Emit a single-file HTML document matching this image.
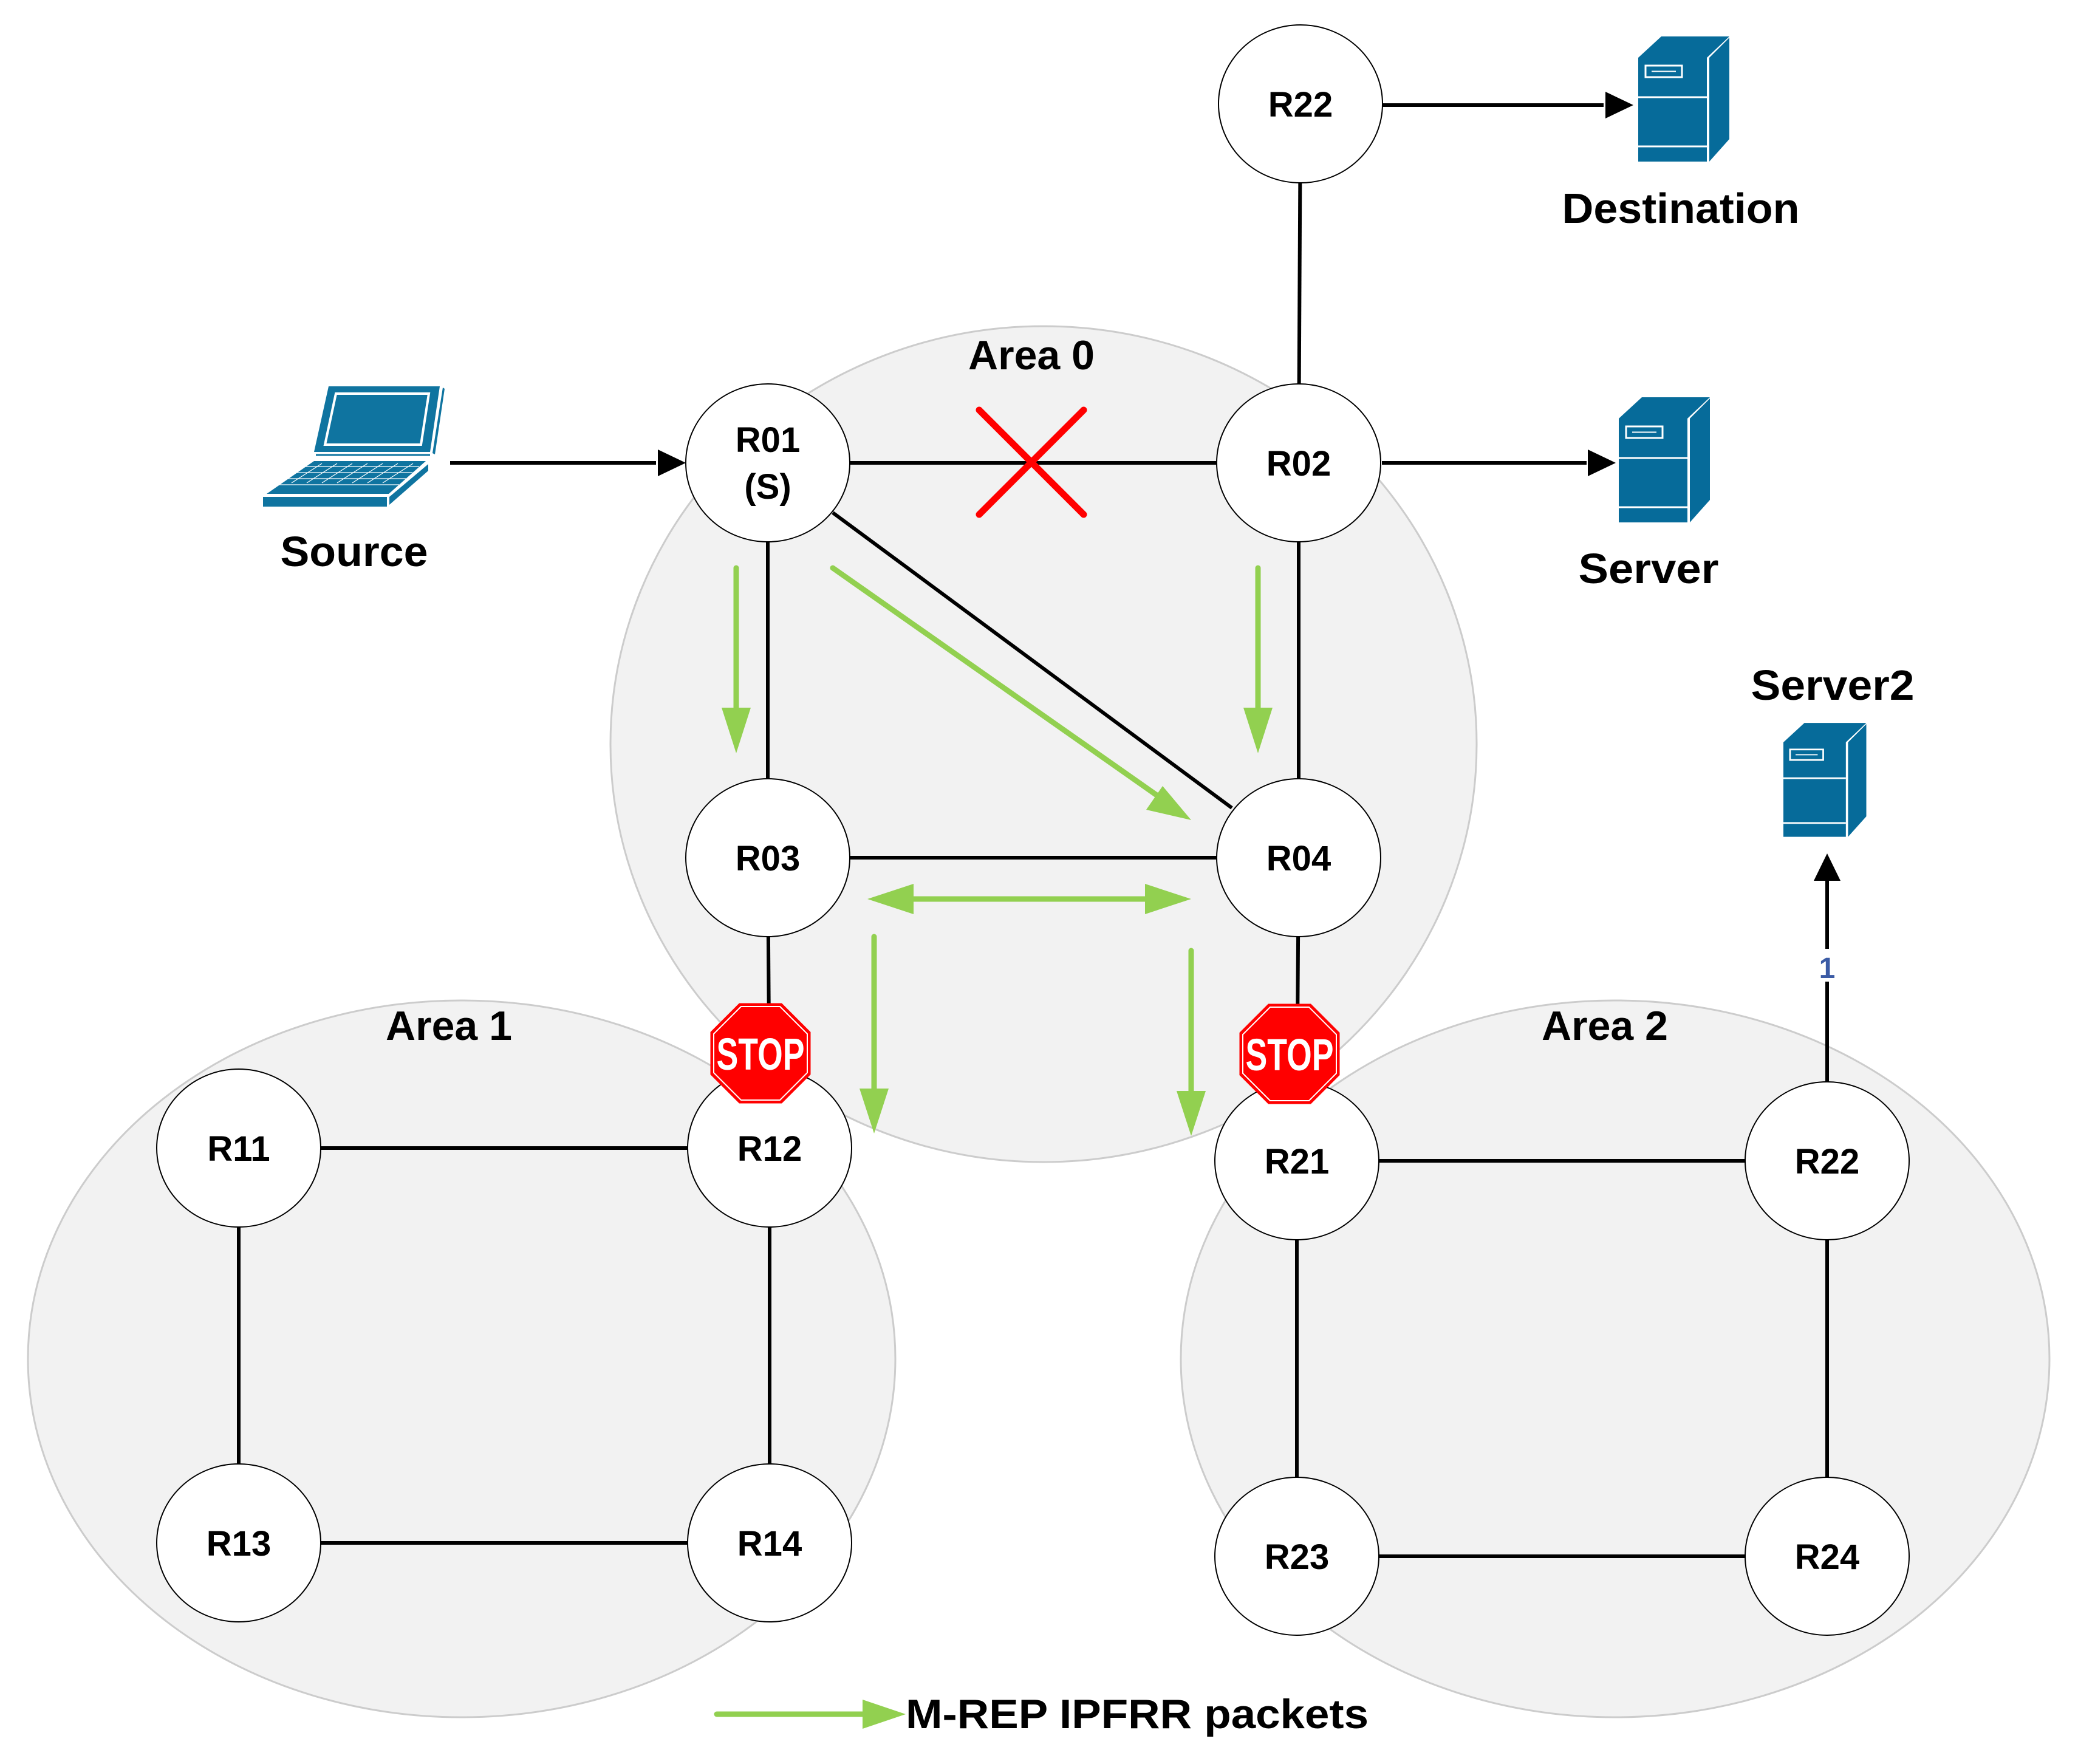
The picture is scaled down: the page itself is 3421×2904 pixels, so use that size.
<!DOCTYPE html>
<html><head><meta charset="utf-8"><style>
html,body{margin:0;padding:0;background:#fff;}
svg{display:block;}
text{font-family:"Liberation Sans",Arial,sans-serif;font-weight:bold;}
</style></head><body>
<svg width="3421" height="2904" viewBox="0 0 3421 2904" xmlns="http://www.w3.org/2000/svg">
<defs>
<g id="srv">
  <polygon points="0,0 38,-35 150,-35 113,0" fill="#066B9A"/>
  <polygon points="117,0 150,-33 150,134 117,171" fill="#066B9A"/>
  <rect x="0" y="0" width="113" height="171" fill="#066B9A"/>
  <line x1="0" y1="65" x2="113" y2="65" stroke="#fff" stroke-width="3"/>
  <line x1="0" y1="146" x2="113" y2="146" stroke="#fff" stroke-width="3"/>
  <line x1="115" y1="0" x2="115" y2="171" stroke="#fff" stroke-width="3"/>
  <rect x="12" y="13" width="60" height="19" fill="none" stroke="#fff" stroke-width="3"/>
  <line x1="22" y1="22.5" x2="62" y2="22.5" stroke="#fff" stroke-width="2"/>
</g>
<g id="stop">
  <polygon points="-35,-82.5 35,-82.5 82.5,-35 82.5,35 35,82.5 -35,82.5 -82.5,35 -82.5,-35" fill="#FF0000"/>
  <polygon points="-32,-77 32,-77 77,-32 77,32 32,77 -32,77 -77,32 -77,-32" fill="none" stroke="#fff" stroke-width="2"/>
  <text x="0" y="27" font-size="74" fill="#fff" text-anchor="middle" textLength="145" lengthAdjust="spacingAndGlyphs">STOP</text>
</g>
</defs>

<ellipse cx="760" cy="2237" rx="714" ry="590" fill="#F2F2F2"/>
<ellipse cx="2659" cy="2237" rx="715" ry="590" fill="#F2F2F2"/>
<ellipse cx="1718" cy="1225" rx="713" ry="688" fill="#F2F2F2"/>
<g fill="none" stroke="#CCCCCC" stroke-width="3">
<ellipse cx="760" cy="2237" rx="714" ry="590"/>
<ellipse cx="2659" cy="2237" rx="715" ry="590"/>
<ellipse cx="1718" cy="1225" rx="713" ry="688"/>
</g>
<text x="1698" y="608" font-size="68" text-anchor="middle">Area 0</text>
<text x="739" y="1712" font-size="68" text-anchor="middle">Area 1</text>
<text x="2642" y="1712" font-size="68" text-anchor="middle">Area 2</text>

<g stroke="#000" stroke-width="6" fill="none">
<line x1="1264" y1="762" x2="2138" y2="762"/>
<line x1="1264" y1="762" x2="1264" y2="1412"/>
<line x1="2138" y1="762" x2="2138" y2="1412"/>
<line x1="1264" y1="1412" x2="2138" y2="1412"/>
<line x1="1371" y1="844" x2="2028" y2="1330"/>
<line x1="1264" y1="1412" x2="1266" y2="1700"/>
<line x1="2138" y1="1412" x2="2136" y2="1700"/>
<line x1="2141" y1="171" x2="2138" y2="762"/>
<line x1="393" y1="1890" x2="1267" y2="1890"/>
<line x1="393" y1="1890" x2="393" y2="2540"/>
<line x1="1267" y1="1890" x2="1267" y2="2540"/>
<line x1="393" y1="2540" x2="1267" y2="2540"/>
<line x1="2135" y1="1911" x2="3008" y2="1911"/>
<line x1="2135" y1="1911" x2="2135" y2="2562"/>
<line x1="3008" y1="1911" x2="3008" y2="2562"/>
<line x1="2135" y1="2562" x2="3008" y2="2562"/>
<line x1="741" y1="762" x2="1080" y2="762"/>
<line x1="2276" y1="173" x2="2640" y2="173"/>
<line x1="2275" y1="762" x2="2612" y2="762"/>
<line x1="3008" y1="1781" x2="3008" y2="1440"/>
</g>
<polygon points="1129,762 1083,740 1083,784" fill="#000"/>
<polygon points="2689,173 2643,151 2643,195" fill="#000"/>
<polygon points="2660,762 2614,740 2614,784" fill="#000"/>
<polygon points="3008,1405 2986,1450 3030,1450" fill="#000"/>
<rect x="2990" y="1562" width="36" height="54" fill="#fff"/>
<text x="3008" y="1610" font-size="48" fill="#3B5BA5" text-anchor="middle">1</text>

<g stroke="#FF0000" stroke-width="11" stroke-linecap="round">
<line x1="1612" y1="675" x2="1784" y2="847"/>
<line x1="1784" y1="675" x2="1612" y2="847"/>
</g>

<g stroke="#92D050" stroke-width="9" stroke-linecap="round" fill="none">
<line x1="1212" y1="935" x2="1212" y2="1175"/>
<line x1="2071" y1="935" x2="2071" y2="1175"/>
<line x1="1371" y1="935" x2="1910" y2="1313"/>
<line x1="1490" y1="1480" x2="1900" y2="1480"/>
<line x1="1439" y1="1542" x2="1439" y2="1800"/>
<line x1="1961" y1="1565" x2="1961" y2="1805"/>
<line x1="1180" y1="2822" x2="1440" y2="2822"/>
</g>
<g fill="#92D050">
<polygon points="1212,1240 1188,1165 1236,1165"/>
<polygon points="2071,1240 2047,1165 2095,1165"/>
<polygon points="1961,1350 1887,1333 1914,1294"/>
<polygon points="1428,1480 1504,1455 1504,1505"/>
<polygon points="1961,1480 1885,1455 1885,1505"/>
<polygon points="1439,1866 1415,1792 1463,1792"/>
<polygon points="1961,1870 1937,1796 1985,1796"/>
<polygon points="1491,2822 1420,2798 1420,2846"/>
</g>
<text x="1491" y="2845" font-size="68" textLength="762" lengthAdjust="spacingAndGlyphs">M-REP IPFRR packets</text>

<g fill="#fff" stroke="#000" stroke-width="2">
<ellipse cx="2141" cy="171" rx="135" ry="130"/>
<ellipse cx="1264" cy="762" rx="135" ry="130"/>
<ellipse cx="2138" cy="762" rx="135" ry="130"/>
<ellipse cx="1264" cy="1412" rx="135" ry="130"/>
<ellipse cx="2138" cy="1412" rx="135" ry="130"/>
<ellipse cx="393" cy="1890" rx="135" ry="130"/>
<ellipse cx="1267" cy="1890" rx="135" ry="130"/>
<ellipse cx="393" cy="2540" rx="135" ry="130"/>
<ellipse cx="1267" cy="2540" rx="135" ry="130"/>
<ellipse cx="2135" cy="1911" rx="135" ry="130"/>
<ellipse cx="3008" cy="1911" rx="135" ry="130"/>
<ellipse cx="2135" cy="2562" rx="135" ry="130"/>
<ellipse cx="3008" cy="2562" rx="135" ry="130"/>
</g>
<g font-size="58" text-anchor="middle">
<text x="2141" y="192">R22</text>
<text x="1264" y="744">R01</text>
<text x="1264" y="821">(S)</text>
<text x="2138" y="783">R02</text>
<text x="1264" y="1433">R03</text>
<text x="2138" y="1433">R04</text>
<text x="393" y="1911">R11</text>
<text x="1267" y="1911">R12</text>
<text x="393" y="2561">R13</text>
<text x="1267" y="2561">R14</text>
<text x="2135" y="1932">R21</text>
<text x="3008" y="1932">R22</text>
<text x="2135" y="2583">R23</text>
<text x="3008" y="2583">R24</text>
</g>

<use href="#stop" x="1252" y="1734"/>
<use href="#stop" x="2123" y="1735"/>

<use href="#srv" transform="translate(2697,95)"/>
<use href="#srv" transform="translate(2665,689)"/>
<use href="#srv" transform="translate(2936,1222) scale(0.91)"/>
<text x="2767" y="367" font-size="70" text-anchor="middle" textLength="391" lengthAdjust="spacingAndGlyphs">Destination</text>
<text x="2714" y="960" font-size="70" text-anchor="middle" textLength="231" lengthAdjust="spacingAndGlyphs">Server</text>
<text x="3017" y="1152" font-size="70" text-anchor="middle" textLength="269" lengthAdjust="spacingAndGlyphs">Server2</text>

<polygon points="541,636 724,636 708,744 517,744" fill="#0F74A0"/>
<polygon points="553,648 706,648 693,732 535,732" fill="none" stroke="#fff" stroke-width="4"/>
<polygon points="729,638 732,640 716,748 712,746" fill="#0F74A0"/>
<line x1="520" y1="749" x2="708" y2="749" stroke="#0F74A0" stroke-width="3"/>
<polygon points="517,759 701,759 640,813 439,813" fill="#0F74A0"/>
<g stroke="#fff" stroke-width="1.2" fill="none">
<line x1="500" y1="768" x2="690" y2="768"/>
<line x1="486" y1="778" x2="679" y2="778"/>
<line x1="472" y1="788" x2="668" y2="788"/>
<line x1="458" y1="798" x2="657" y2="798"/>
<path d="M530,763 L480,795 M555,763 L505,795 M580,763 L530,795 M605,763 L555,795 M630,763 L580,795 M655,763 L605,795 M680,763 L630,795"/>
</g>
<rect x="433" y="818" width="204" height="16" fill="#0F74A0"/>
<polygon points="641,818 705,764 705,775 641,831" fill="#0F74A0"/>
<text x="583" y="932" font-size="70" text-anchor="middle" textLength="243" lengthAdjust="spacingAndGlyphs">Source</text>
</svg>
</body></html>
